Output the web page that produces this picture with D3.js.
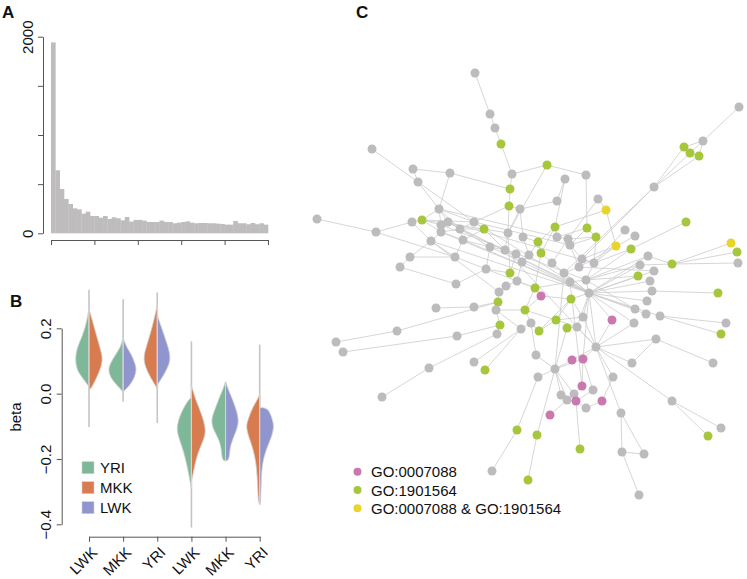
<!DOCTYPE html>
<html>
<head>
<meta charset="utf-8">
<script src="https://cdn.jsdelivr.net/npm/d3@7"></script>
<style>
  body { margin: 0; background: #fff; }
  svg text { font-family: "Liberation Sans", Arial, Helvetica, sans-serif; fill: #111; }
</style>
</head>
<body>
<svg id="fig" width="747" height="579"></svg>
<script>
// Constants
const FONT_SIZE = 15;
const AXIS_COLOR = "#555";

//==========================================
// Data
//==========================================

// Panel A: p-value histogram, 50 bins of width 0.02
const HIST_BIN = 0.02;
const HIST_COUNTS = [1942, 641, 451, 349, 298, 254, 244, 200, 220, 176,
  176, 159, 176, 146, 163, 153, 132, 166, 119, 136,
  136, 129, 115, 115, 115, 129, 115, 115, 102, 108,
  115, 122, 108, 102, 105, 105, 102, 102, 98, 95,
  88, 88, 125, 102, 102, 92, 105, 92, 102, 88];
const HIST_Y_TICKS = [0, 500, 1000, 1500, 2000];
const HIST_Y_LABELS = [0, 2000];
const HIST_X_TICKS = [0, 0.2, 0.4, 0.6, 0.8, 1];

// Panel B: split violins of beta
const VIOLIN_LABELS = ["LWK", "MKK", "YRI", "LWK", "MKK", "YRI"];
const VIOLIN_LEFT = ["YRI", "YRI", "MKK", "YRI", "YRI", "MKK"];
const VIOLIN_RIGHT = ["MKK", "LWK", "LWK", "MKK", "LWK", "LWK"];
const VIOLIN_RANGE = [[0.318, -0.102], [0.289, -0.025], [0.31, -0.09],
  [0.16, -0.41], [0.035, -0.205], [0.15, -0.34]];
// [beta, relative density]
const LEFT_PROFILES = [
  [[0.26, 0], [0.21, 0.2], [0.173, 0.47], [0.143, 0.78], [0.107, 0.93], [0.071, 0.8], [0.051, 0.47], [0.03, 0.15], [0.022, 0]],
  [[0.17, 0], [0.14, 0.2], [0.122, 0.47], [0.092, 0.87], [0.071, 1.0], [0.046, 0.8], [0.025, 0.4], [0.01, 0.07], [0.0, 0]],
  [[0.27, 0], [0.23, 0.2], [0.194, 0.4], [0.143, 0.73], [0.112, 0.93], [0.081, 0.8], [0.051, 0.47], [0.025, 0.13], [0.015, 0]],
  [[-0.012, 0], [-0.018, 0.2], [-0.061, 0.73], [-0.102, 1.0], [-0.133, 0.87], [-0.174, 0.53], [-0.225, 0.27], [-0.265, 0.1], [-0.29, 0]],
  [[0.036, 0], [0.01, 0.2], [-0.01, 0.4], [-0.051, 0.73], [-0.082, 0.98], [-0.112, 0.8], [-0.143, 0.4], [-0.174, 0.27], [-0.204, 0.23], [-0.206, 0]],
  [[0.0, 0], [-0.015, 0.1], [-0.041, 0.47], [-0.082, 0.8], [-0.102, 0.91], [-0.133, 0.73], [-0.174, 0.4], [-0.225, 0.2], [-0.286, 0.13], [-0.332, 0.1], [-0.336, 0]]
];
const RIGHT_PROFILES = [
  [[0.26, 0], [0.22, 0.25], [0.173, 0.53], [0.13, 0.8], [0.107, 0.91], [0.08, 0.8], [0.051, 0.53], [0.02, 0.2], [0.01, 0]],
  [[0.17, 0], [0.14, 0.25], [0.122, 0.53], [0.092, 0.8], [0.071, 0.91], [0.04, 0.67], [0.02, 0.33], [0.005, 0]],
  [[0.24, 0], [0.2, 0.3], [0.16, 0.6], [0.117, 0.89], [0.09, 0.8], [0.06, 0.47], [0.036, 0.13], [0.025, 0]],
  [[0.025, 0], [-0.018, 0.27], [-0.061, 0.67], [-0.112, 1.0], [-0.143, 0.8], [-0.184, 0.4], [-0.225, 0.2], [-0.255, 0.07], [-0.265, 0]],
  [[0.036, 0], [0.01, 0.2], [-0.01, 0.4], [-0.051, 0.73], [-0.085, 0.91], [-0.12, 0.67], [-0.155, 0.33], [-0.185, 0.27], [-0.204, 0.2], [-0.206, 0]],
  [[-0.043, 0], [-0.043, 0.58], [-0.082, 0.87], [-0.102, 0.95], [-0.133, 0.8], [-0.174, 0.4], [-0.214, 0.17], [-0.265, 0.1], [-0.332, 0.07], [-0.336, 0]]
];
const BETA_TICKS = [0.2, 0.0, -0.2, -0.4];
const POPULATIONS = ["YRI", "MKK", "LWK"];
const POP_COLORS = { YRI: "#7fb898", MKK: "#d87b4f", LWK: "#9096cd" };

// Panel C: network, layout coordinates [x, y, annotation]
// annotation: "" none, "a" GO:0007088, "b" GO:1901564, "ab" both
const NODES = [
  [175, 13, ""], [190, 54, ""], [195, 68, ""], [201, 84, "b"], [72, 89, ""],
  [113, 109, ""], [150, 113, ""], [118, 122, ""], [212, 114, ""], [210, 129, "b"],
  [209, 146, "b"], [220, 149, ""], [139, 149, ""], [17, 159, ""], [122, 160, "b"],
  [112, 162, ""], [148, 162, ""], [141, 165, ""], [141, 172, ""], [160, 169, ""],
  [174, 162, ""], [184, 169, "b"], [208, 173, ""], [76, 172, ""], [131, 181, ""],
  [163, 180, ""], [190, 187, ""], [205, 190, ""], [216, 194, ""], [110, 197, ""],
  [155, 197, ""], [100, 207, ""], [186, 209, ""], [210, 213, "b"], [439, 47, ""],
  [403, 81, ""], [384, 87, "b"], [390, 93, "b"], [399, 96, "b"], [354, 127, ""],
  [247, 105, "b"], [286, 115, ""], [265, 119, ""], [257, 141, ""], [298, 139, ""],
  [306, 150, "ab"], [386, 162, "b"], [255, 167, "b"], [287, 168, "b"], [325, 170, ""],
  [335, 176, ""], [296, 177, "b"], [223, 177, ""], [257, 177, ""], [268, 179, ""],
  [238, 182, "b"], [270, 185, ""], [316, 186, "ab"], [331, 189, "b"], [431, 183, "ab"],
  [437, 192, "b"], [438, 203, ""], [372, 204, "b"], [348, 196, ""], [340, 205, ""],
  [354, 211, ""], [338, 216, "b"], [350, 221, ""], [229, 195, ""], [241, 193, "b"],
  [222, 202, ""], [252, 203, ""], [282, 199, ""], [294, 203, ""], [279, 207, ""],
  [264, 213, ""], [270, 222, ""], [286, 220, ""], [217, 221, ""], [235, 228, "b"],
  [156, 224, ""], [206, 226, ""], [241, 236, "a"], [199, 232, ""], [198, 242, "b"],
  [136, 248, ""], [174, 247, ""], [196, 250, ""], [225, 250, "b"], [231, 263, ""],
  [221, 269, ""], [200, 265, "b"], [197, 274, ""], [239, 271, "b"], [97, 271, ""],
  [36, 282, ""], [43, 292, ""], [157, 276, ""], [174, 302, ""], [185, 310, "b"],
  [236, 295, ""], [129, 308, ""], [238, 317, ""], [82, 337, ""], [217, 370, "b"],
  [237, 375, "b"], [192, 411, ""], [228, 420, "b"], [352, 231, ""], [418, 233, "b"],
  [289, 233, ""], [271, 239, "b"], [347, 241, ""], [335, 249, ""], [346, 254, ""],
  [360, 256, ""], [426, 263, ""], [421, 274, "b"], [256, 260, "b"], [283, 257, ""],
  [312, 260, "a"], [334, 263, ""], [267, 268, "b"], [277, 267, ""], [356, 279, ""],
  [296, 287, ""], [413, 303, ""], [272, 300, "a"], [283, 299, "a"], [332, 303, ""],
  [255, 309, ""], [313, 317, ""], [282, 326, "a"], [293, 330, ""], [261, 335, ""],
  [274, 334, ""], [267, 340, ""], [276, 341, "a"], [302, 341, "a"], [286, 348, ""],
  [372, 341, ""], [250, 355, "a"], [321, 353, ""], [421, 368, ""], [408, 376, "b"],
  [280, 389, "b"], [322, 392, ""], [344, 394, ""], [339, 435, ""]
];
const EDGES = [
  [0, 1], [1, 2], [2, 3], [3, 8], [8, 9], [9, 10], [10, 22], [8, 40],
  [4, 7], [7, 20], [5, 6], [5, 7], [6, 9], [6, 12], [7, 12],
  [12, 14], [12, 16], [12, 17], [12, 19], [12, 20],
  [13, 23], [23, 15], [23, 30], [15, 14], [14, 17], [14, 18], [14, 20], [14, 21], [15, 24],
  [16, 17], [16, 19], [16, 18], [17, 18], [18, 24], [18, 19], [18, 25],
  [19, 20], [19, 21], [19, 25], [19, 26], [20, 21], [20, 10], [21, 22], [21, 25], [21, 27],
  [24, 29], [29, 31], [24, 30], [25, 30], [25, 26], [26, 27], [26, 32], [27, 28], [27, 22],
  [31, 80], [29, 30], [80, 32], [32, 33], [33, 28], [33, 22],
  [95, 94], [94, 84], [96, 97], [97, 91], [85, 86], [86, 84], [103, 101], [101, 92], [98, 90], [99, 90],
  [84, 83], [84, 87], [83, 81], [81, 78], [87, 88], [87, 90], [87, 91], [91, 92], [89, 90], [89, 88], [89, 93],
  [34, 35], [35, 36], [35, 37], [36, 37], [37, 38], [36, 39], [37, 39], [38, 39], [38, 35],
  [39, 72], [39, 75],
  [40, 41], [40, 22], [42, 43], [42, 47], [43, 11], [41, 48], [44, 45], [44, 54], [45, 57], [45, 47], [46, 58],
  [49, 73], [50, 74], [57, 72], [57, 73], [58, 77], [58, 73],
  [59, 62], [60, 62], [61, 62], [62, 63], [62, 64], [63, 77], [64, 77], [65, 74], [66, 77], [67, 110], [65, 110],
  [47, 53], [47, 55], [47, 69], [48, 53], [48, 56], [48, 51], [51, 56], [51, 54], [51, 73],
  [52, 68], [52, 11], [52, 55], [11, 10], [11, 22],
  [53, 54], [54, 56], [54, 71], [56, 72], [56, 74], [55, 69], [55, 68], [68, 70], [69, 71], [69, 79],
  [70, 28], [70, 78], [71, 75], [72, 73], [72, 74], [73, 77], [74, 75], [75, 76], [76, 77], [76, 79], [77, 110],
  [78, 79], [79, 82], [79, 88], [82, 88], [82, 111],
  [108, 109], [108, 110], [110, 112], [110, 113], [110, 114], [110, 115], [110, 121], [110, 125], [110, 111], [110, 119], [110, 123],
  [115, 116], [115, 117], [120, 125], [124, 126], [124, 129], [129, 125], [121, 125],
  [125, 127], [125, 128], [125, 131], [125, 142], [125, 140],
  [140, 143], [140, 144], [142, 146], [142, 147], [146, 147], [146, 148],
  [131, 138], [138, 139], [133, 128], [133, 137], [134, 130], [135, 130], [136, 130], [136, 137], [137, 145], [135, 132], [132, 128], [139, 137], [141, 136],
  [127, 130], [128, 130], [130, 100], [130, 102], [130, 122],
  [100, 89], [102, 104], [104, 106], [105, 107], [105, 130],
  [118, 119], [118, 111], [118, 123], [122, 123], [119, 111], [88, 118], [93, 118], [93, 111],
  [17, 77], [18, 110], [19, 76], [25, 110], [16, 73], [20, 56], [26, 110], [27, 125], [30, 79], [24, 83], [12, 53],
  [75, 130], [76, 132], [110, 128], [120, 110],
  [110, 63], [110, 64], [110, 66], [125, 124], [119, 125], [123, 125], [77, 113],
  [76, 110], [71, 110], [75, 110], [16, 110], [20, 110], [24, 110]
];
const GO_KEYS = ["a", "b", "ab"];
const GO_LABELS = ["GO:0007088", "GO:1901564", "GO:0007088 & GO:1901564"];
const GO_COLORS = { "": "#bdbbbd", a: "#c978b0", b: "#a6c63c", ab: "#e9d42c" };

//==========================================
// Helpers
//==========================================

const svg = d3.select("#fig");
svg.append("rect").attr("width", 747).attr("height", 579).attr("fill", "#fff");

function panelLabel(text, x, y) {
  svg.append("text")
    .attr("x", x).attr("y", y)
    .style("font-size", "17px")
    .style("font-weight", "bold")
    .text(text);
}

// Restyle an axis the way R draws it: grey line, vertical labels
function styleAxis(g) {
  g.select(".domain").attr("stroke", AXIS_COLOR);
  g.selectAll(".tick line").attr("stroke", AXIS_COLOR);
  g.selectAll(".tick text")
    .style("font-size", FONT_SIZE + "px")
    .attr("fill", "#111");
}

//==========================================
// Panel A: histogram
//==========================================

function drawHistogram() {
  const xA = d3.scaleLinear().domain([0, 1]).range([51, 268]);
  const yA = d3.scaleLinear().domain([0, 2000]).range([233.3, 36.7]);
  const g = svg.append("g");

  g.selectAll("rect.bar")
    .data(HIST_COUNTS)
    .join("rect")
    .attr("class", "bar")
    .attr("x", (d, i) => xA(i * HIST_BIN))
    .attr("width", xA(HIST_BIN) - xA(0) + 0.3)
    .attr("y", d => yA(d))
    .attr("height", d => yA(0) - yA(d))
    .attr("fill", "#bebcbd");

  const yAxis = g.append("g")
    .attr("transform", "translate(43,0)")
    .call(d3.axisLeft(yA).tickValues(HIST_Y_TICKS).tickSize(5).tickSizeOuter(0)
      .tickFormat(d => HIST_Y_LABELS.includes(d) ? d : ""));
  styleAxis(yAxis);
  yAxis.selectAll(".tick text")
    .attr("x", 0).attr("y", -10).attr("dy", 0)
    .attr("text-anchor", "middle")
    .attr("transform", "rotate(-90)");

  const xAxis = g.append("g")
    .attr("transform", "translate(0,240)")
    .call(d3.axisBottom(xA).tickValues(HIST_X_TICKS).tickSize(5).tickSizeOuter(0).tickFormat(""));
  styleAxis(xAxis);

  panelLabel("A", 2, 18);
}

//==========================================
// Panel B: split violins
//==========================================

function drawViolins() {
  const xB = d3.scalePoint().domain(d3.range(VIOLIN_LABELS.length)).range([89, 259.7]);
  const yB = d3.scaleLinear().domain([-0.4, 0.2]).range([524.3, 328.3]);
  const wB = d3.scaleLinear().domain([0, 1]).range([0, 15]);
  const g = svg.append("g");

  VIOLIN_LABELS.forEach((label, i) => {
    const cx = xB(i);
    const range = VIOLIN_RANGE[i];

    // whisker behind the bodies
    g.append("line")
      .attr("x1", cx).attr("x2", cx)
      .attr("y1", yB(range[0])).attr("y2", yB(range[1]))
      .attr("stroke", "#c4c4c4").attr("stroke-width", 1.6);

    const leftArea = d3.area().curve(d3.curveBasis)
      .y(d => yB(d[0])).x0(cx).x1(d => cx - wB(d[1]));
    const rightArea = d3.area().curve(d3.curveBasis)
      .y(d => yB(d[0])).x0(cx).x1(d => cx + wB(d[1]));

    g.append("path")
      .attr("d", leftArea(LEFT_PROFILES[i]))
      .attr("fill", POP_COLORS[VIOLIN_LEFT[i]])
      .attr("stroke", "#d0d0d0").attr("stroke-width", 0.8);
    g.append("path")
      .attr("d", rightArea(RIGHT_PROFILES[i]))
      .attr("fill", POP_COLORS[VIOLIN_RIGHT[i]])
      .attr("stroke", "#d0d0d0").attr("stroke-width", 0.8);

    // split line through the middle
    const top = Math.max(LEFT_PROFILES[i][0][0], RIGHT_PROFILES[i][0][0]);
    const bottom = Math.min(LEFT_PROFILES[i][LEFT_PROFILES[i].length - 1][0],
      RIGHT_PROFILES[i][RIGHT_PROFILES[i].length - 1][0]);
    g.append("line")
      .attr("x1", cx).attr("x2", cx)
      .attr("y1", yB(top)).attr("y2", yB(bottom))
      .attr("stroke", "#d6d6d6").attr("stroke-width", 1);
  });

  const yAxis = g.append("g")
    .attr("transform", "translate(61.7,0)")
    .call(d3.axisLeft(yB).tickValues(BETA_TICKS).tickSize(5).tickSizeOuter(0)
      .tickFormat(d => d3.format(".1f")(d).replace("-", "\u2212")));
  styleAxis(yAxis);
  yAxis.selectAll(".tick text")
    .attr("x", 0).attr("y", -11).attr("dy", 0)
    .attr("text-anchor", "middle")
    .attr("transform", "rotate(-90)");

  const xAxis = g.append("g")
    .attr("transform", "translate(0,536.7)")
    .call(d3.axisBottom(xB).tickSize(5).tickSizeOuter(0).tickFormat(i => VIOLIN_LABELS[i]));
  styleAxis(xAxis);
  xAxis.selectAll(".tick text")
    .attr("x", 0).attr("y", 0).attr("dy", "0.35em")
    .attr("text-anchor", "end")
    .attr("transform", "translate(5,13) rotate(-45)");

  g.append("text")
    .attr("transform", "translate(21,417) rotate(-90)")
    .attr("text-anchor", "middle")
    .style("font-size", FONT_SIZE + "px")
    .text("beta");

  // legend
  const legend = g.selectAll("g.legend")
    .data(POPULATIONS)
    .join("g")
    .attr("class", "legend")
    .attr("transform", (d, i) => `translate(82,${461.7 + i * 20})`);
  legend.append("rect")
    .attr("width", 12).attr("height", 12)
    .attr("fill", d => POP_COLORS[d])
    .attr("stroke", "#d0d0d0").attr("stroke-width", 0.6);
  legend.append("text")
    .attr("x", 18).attr("y", 11.5)
    .style("font-size", FONT_SIZE + "px")
    .text(d => d);

  panelLabel("B", 10, 307);
}

//==========================================
// Panel C: network
//==========================================

function drawNetwork() {
  const xC = d3.scaleLinear().domain([0, 450]).range([300, 750]);
  const yC = d3.scaleLinear().domain([0, 450]).range([60, 510]);
  const g = svg.append("g");

  g.selectAll("line.edge")
    .data(EDGES)
    .join("line")
    .attr("class", "edge")
    .attr("x1", d => xC(NODES[d[0]][0]))
    .attr("y1", d => yC(NODES[d[0]][1]))
    .attr("x2", d => xC(NODES[d[1]][0]))
    .attr("y2", d => yC(NODES[d[1]][1]))
    .attr("stroke", "#cbcbcb")
    .attr("stroke-width", 0.8);

  g.selectAll("circle.node")
    .data(NODES)
    .join("circle")
    .attr("class", "node")
    .attr("cx", d => xC(d[0]))
    .attr("cy", d => yC(d[1]))
    .attr("r", 4.5)
    .attr("fill", d => GO_COLORS[d[2]]);

  const legend = g.selectAll("g.legend")
    .data(GO_KEYS)
    .join("g")
    .attr("class", "legend")
    .attr("transform", (d, i) => `translate(357.5,${471.7 + i * 18.3})`);
  legend.append("circle")
    .attr("r", 4)
    .attr("fill", d => GO_COLORS[d]);
  legend.append("text")
    .attr("x", 13.5).attr("y", 5.5)
    .style("font-size", FONT_SIZE + "px")
    .text((d, i) => GO_LABELS[i]);

  panelLabel("C", 356, 18);
}

drawHistogram();
drawViolins();
drawNetwork();
</script>
</body>
</html>
